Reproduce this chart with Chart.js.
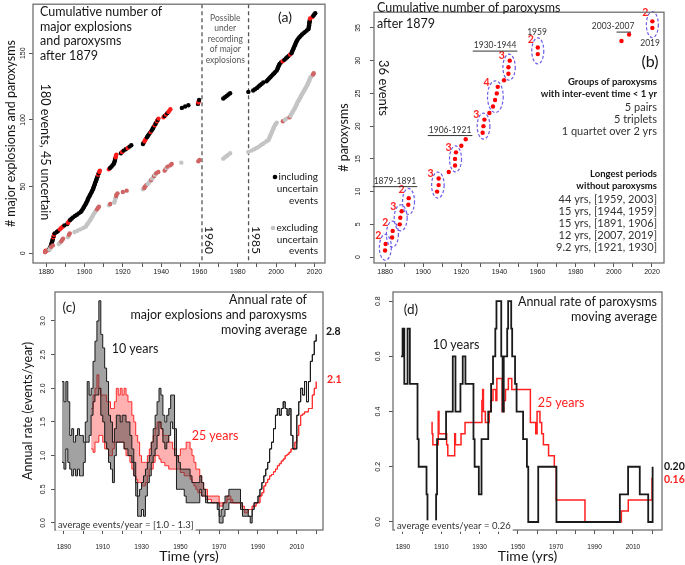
<!DOCTYPE html>
<html>
<head>
<meta charset="utf-8">
<script src="https://cdn.jsdelivr.net/npm/chart.js@4.4.1/dist/chart.umd.min.js"></script>
<style>
  body { margin: 0; background: #fff; }
  #wrap { position: relative; width: 685px; height: 565px; overflow: hidden; background: #fff; }
  canvas { position: absolute; }
</style>
</head>
<body>
<div id="wrap">
  <canvas id="ca" width="335" height="280" style="left:0;top:0"></canvas>
  <canvas id="cb" width="342" height="280" style="left:332px;top:0"></canvas>
  <canvas id="cc" width="345" height="285" style="left:0;top:280px"></canvas>
  <canvas id="cd" width="340" height="285" style="left:345px;top:280px"></canvas>
</div>
<script>
// ---------- (a) cumulative major explosions + paroxysms (event dates, count = order) ----------
const eventsAll = [
  1879.4, 1879.7, 1881.5, 1881.9,
  1882.3, 1882.5, 1882.7, 1882.9, 1883.1, 1883.3, 1883.5, 1883.7, 1883.9, 1884.1, 1884.4,
  1885.5, 1886.3, 1887.1, 1887.8, 1888.6, 1889.5,
  1891.0, 1891.4, 1891.8, 1892.5, 1893.2, 1894.0,
  1895.0, 1896.0, 1897.0, 1898.0,
  1898.5, 1899.0, 1899.4, 1899.8, 1900.2, 1900.6, 1901.0,
  1901.3, 1901.6, 1901.9, 1902.2, 1902.6, 1903.0, 1903.3, 1903.7, 1904.0, 1904.4,
  1904.6, 1904.9, 1905.1, 1905.4, 1905.6, 1905.9, 1906.1, 1906.4, 1906.6, 1906.9, 1907.1, 1907.4, 1907.7, 1908.0,
  1912.7, 1913.3, 1914.0, 1914.6, 1915.2,
  1915.5, 1915.7, 1915.9, 1916.0, 1916.2, 1916.4, 1916.6,
  1919.0, 1919.6, 1920.4,
  1921.5, 1922.5, 1923.5, 1924.4,
  1930.5, 1930.9, 1931.3, 1931.7, 1932.1, 1932.6,
  1933.0, 1933.5, 1934.0, 1934.5, 1935.0, 1935.4, 1935.8, 1936.2, 1936.6, 1937.0, 1937.4, 1937.8, 1938.2, 1938.6,
  1941.2, 1941.8, 1942.5, 1943.2, 1943.8, 1944.3, 1944.8,
  1950.8, 1952.5, 1954.2,
  1959.2, 1959.4, 1959.6, 1959.8,
  1972.4, 1973.3, 1974.2, 1975.1, 1976.0,
  1985.5,
  1988.0, 1989.0, 1990.0, 1990.8, 1991.6, 1992.4, 1993.3,
  1995.0, 1995.6, 1996.3, 1997.0, 1997.6, 1998.3, 1999.0, 1999.6, 2000.3,
  2000.6, 2000.9, 2001.2, 2001.5, 2001.8,
  2002.5, 2003.4, 2004.3, 2005.0, 2005.8, 2006.5, 2007.3,
  2008.0, 2008.3, 2008.6, 2008.9, 2009.2, 2009.5, 2009.8, 2010.1, 2010.4, 2010.7, 2011.1, 2011.6,
  2012.2, 2012.8, 2013.5, 2014.3, 2015.1, 2016.0, 2016.8,
  2017.0, 2017.1, 2017.2, 2017.3, 2017.4, 2017.5, 2017.6, 2017.7,
  2018.8, 2019.4, 2019.9, 2020.4
];
const paroxInAll = [1, 2, 12, 14, 18, 19, 20, 23, 24, 59, 61, 62, 63, 72, 73, 74, 76, 79, 84, 85, 86, 91,
  96, 99, 101, 102, 104, 106, 107, 108, 113, 114, 144, 149, 176, 177];

const eventsCertain = [
  1879.5, 1880.3,
  1881.8, 1882.2, 1882.6, 1883.5,
  1886.5, 1887.2, 1887.8, 1888.3, 1888.8,
  1891.3, 1891.6, 1891.9, 1892.3,
  1894.8, 1896.3, 1897.8, 1899.3, 1900.6,
  1901.0, 1901.5, 1902.0, 1902.5, 1903.0, 1903.4, 1903.8, 1904.2, 1904.6, 1905.0, 1905.5, 1906.0, 1906.5, 1907.0, 1907.5,
  1912.8, 1913.4,
  1915.5, 1915.7, 1915.9, 1916.1, 1916.3, 1916.5, 1916.7, 1917.2,
  1920.0, 1922.0,
  1930.5, 1931.2, 1931.5, 1932.2, 1933.0,
  1933.6, 1934.2, 1934.8, 1935.3, 1935.8, 1936.3, 1936.8, 1937.4, 1938.5,
  1941.8, 1942.3, 1942.8, 1943.3, 1944.8, 1945.5,
  1950.5,
  1959.4, 1960.0,
  1972.4, 1973.3, 1974.2, 1975.1, 1976.0,
  1985.5,
  1987.2, 1988.5, 1989.8, 1991.0, 1992.0, 1993.0, 1994.0, 1995.0,
  1996.0, 1996.3, 1996.6, 1996.9, 1997.2, 1997.5, 1997.8, 1998.1, 1998.4, 1998.7, 1999.0, 1999.4, 1999.8, 2000.3,
  2003.5, 2004.5, 2005.5, 2007.0, 2007.5,
  2007.8, 2008.2, 2008.6, 2009.0, 2009.4, 2009.8, 2010.2, 2010.5, 2010.8, 2011.1, 2011.5, 2011.9, 2012.3, 2012.7, 2013.0, 2013.4,
  2013.8, 2014.2, 2014.6, 2015.0, 2015.4, 2015.8, 2016.2, 2016.5, 2016.8, 2017.1, 2017.4, 2017.7, 2018.0, 2018.6, 2019.3, 2019.6
];
const paroxInCertain = [1, 2, 5, 6, 9, 10, 11, 14, 15, 33, 34, 35, 37, 43, 44, 45, 46, 47, 49, 50, 51, 55,
  58, 60, 61, 62, 63, 65, 66, 67, 69, 70, 99, 102, 134, 135];

const gapLines = [1961.3, 1985.6];
const gapLabels = ['1960', '1985'];
const gapNote = ['Possible', 'under', 'recording', 'of major', 'explosions'];

const xTicksTop = [1880, 1890, 1900, 1910, 1920, 1930, 1940, 1950, 1960, 1970, 1980, 1990, 2000, 2010, 2020];
const xLabelsTop = [1880, 1900, 1920, 1940, 1960, 1980, 2000, 2020];
const yTicksA = [0, 50, 100, 150];
const yTicksB = [0, 5, 10, 15, 20, 25, 30, 35];

// ---------- (b) cumulative paroxysms ----------
const paroxYears = [1880.0, 1880.3, 1883.7, 1884.0, 1887.7, 1888.0, 1888.7, 1892.2, 1892.4, 1907.3, 1908.1, 1908.1,
  1913.4, 1916.7, 1916.7, 1917.2, 1920.0, 1922.3, 1931.2, 1931.6, 1932.1, 1934.7, 1936.6, 1937.7, 1938.6, 1939.1,
  1942.4, 1944.7, 1944.7, 1945.4, 1960.1, 1960.1, 2004.0, 2008.0, 2020.2, 2020.2];
const paroxGroups = [[0, 1], [2, 3], [4, 6], [7, 8], [9, 11], [13, 15], [18, 20], [22, 25], [27, 29], [30, 31], [34, 35]];
const periodLabels = [
  ['1879-1891', 1885.2, 11.6, 'full'],
  ['1906-1921', 1914.1, 19.4, 'full'],
  ['1930-1944', 1937.7, 32.3, 'full'],
  ['1959', 1959.7, 34.4, ''],
  ['2003-2007', 1999.6, 35.2, 'half'],
  ['2019', 2019.0, 32.6, '']
];
const groupNotes = ['5 pairs', '5 triplets', '1 quartet over 2 yrs'];
const longestGaps = ['44 yrs, [1959, 2003]', '15 yrs, [1944, 1959]', '15 yrs, [1891, 1906]', '12 yrs, [2007, 2019]', '9.2 yrs, [1921, 1930]'];

// ---------- (c) annual rate, all major explosions + paroxysms (one value per year) ----------
const startC10 = 1889;
const rate10Lo = [
  0.9, 0.8, 1.1, 0.9, 0.8, 0.7, 0.8, 0.7, 0.8, 0.7,
  0.7, 0.9, 1.2, 1.2, 1.3, 1.6, 1.8, 1.9, 1.9, 2.0,
  1.6, 1.5, 1.2, 1.1, 0.9, 0.8, 0.6, 1.0, 1.2, 1.2,
  1.2, 1.2, 1.1, 1.1, 1.0, 1.0, 0.9, 0.7, 0.4, 0.1,
  0.1, 0.2, 0.1, 0.4, 0.6, 0.7, 0.9, 1.0, 1.1, 1.3,
  1.5, 1.4, 1.2, 1.1, 1.2, 1.3, 1.5, 1.4, 1.0, 0.5,
  0.5, 0.5, 0.5, 0.4, 0.3, 0.3, 0.3, 0.3, 0.3, 0.3,
  0.3, 0.5, 0.4, 0.4, 0.3, 0.3, 0.3, 0.3, 0.3, 0.3,
  0.2, 0.0, 0.0, 0.1, 0.2, 0.2, 0.3, 0.3, 0.3, 0.3,
  0.3, 0.3, 0.2, 0.1, 0.1, 0.1, 0.1, 0.0, 0.2, 0.3,
  0.3, 0.4, 0.5, 0.6, 0.7, 0.8, 0.9, 1.1, 1.2, 1.4,
  1.6, 1.7, 1.6, 1.7, 1.8, 1.7, 1.6, 1.7, 1.3, 1.1,
  1.1, 1.6, 1.8, 2.0, 1.9, 2.1, 1.8, 2.1, 2.4, 2.5,
  2.7, 2.8
];
const rate10Hi = [
  2.1, 1.8, 2.1, 1.8, 1.3, 1.4, 1.2, 1.3, 1.4, 1.3,
  1.3, 1.2, 1.5, 2.1, 1.9, 2.0, 2.4, 2.7, 3.0, 3.3,
  2.8, 2.6, 2.3, 2.1, 1.6, 1.5, 1.2, 1.4, 1.6, 1.6,
  1.5, 1.6, 1.6, 1.5, 1.5, 1.3, 1.1, 0.9, 0.6, 0.4,
  0.5, 0.6, 0.7, 0.8, 0.9, 1.0, 1.2, 1.4, 1.6, 1.8,
  2.0, 1.9, 1.6, 1.5, 1.6, 1.7, 1.9, 1.9, 1.4, 1.0,
  0.9, 0.8, 0.8, 0.8, 0.8, 0.8, 0.7, 0.6, 0.6, 0.6,
  0.6, 0.7, 0.6, 0.5, 0.4, 0.3, 0.3, 0.3, 0.3, 0.3,
  0.3, 0.1, 0.2, 0.3, 0.4, 0.4, 0.5, 0.5, 0.5, 0.5,
  0.5, 0.5, 0.3, 0.2, 0.2, 0.2, 0.1, 0.1, 0.2, 0.3,
  0.3, 0.4, 0.5, 0.6, 0.7, 0.8, 0.9, 1.1, 1.2, 1.4,
  1.6, 1.7, 1.6, 1.7, 1.8, 1.7, 1.6, 1.7, 1.3, 1.1,
  1.1, 1.6, 1.8, 2.0, 1.9, 2.1, 1.8, 2.1, 2.4, 2.5,
  2.7, 2.8
];
const startC25 = 1904;
const rate25Lo = [
  1.1, 1.05, 1.2, 1.2, 1.3, 1.3, 1.2, 1.1, 1.1, 1.0,
  1.0, 1.1, 1.2, 1.2, 1.2, 1.2, 1.2, 1.1, 1.0, 1.0,
  0.9, 0.8, 0.7, 0.65, 0.6, 0.6, 0.55, 0.55, 0.6, 0.7,
  0.8, 0.8, 0.9, 1.0, 1.0, 0.95, 0.9, 0.9, 0.85, 0.85,
  0.8, 0.8, 0.8, 0.8, 0.8, 0.8, 0.75, 0.75, 0.7, 0.7,
  0.7, 0.65, 0.6, 0.55, 0.5, 0.45, 0.45, 0.4, 0.4, 0.35,
  0.35, 0.35, 0.3, 0.3, 0.3, 0.3, 0.25, 0.25, 0.3, 0.3,
  0.35, 0.35, 0.3, 0.3, 0.3, 0.3, 0.3, 0.25, 0.2, 0.15,
  0.15, 0.2, 0.2, 0.25, 0.25, 0.3, 0.3, 0.4, 0.45, 0.55,
  0.6, 0.65, 0.7, 0.72, 0.76, 0.8, 0.85, 0.88, 0.92, 0.95,
  1.0, 1.02, 1.05, 1.1, 1.1, 1.2, 1.3, 1.45, 1.6, 1.62,
  1.65, 1.65, 1.7, 1.7, 1.9, 2.0, 2.1
];
const rate25Hi = [
  1.7, 1.9, 2.0, 2.2, 2.0, 1.9, 1.9, 1.9, 1.8, 1.8,
  1.7, 1.7, 1.8, 2.0, 1.9, 2.0, 1.9, 2.0, 1.9, 1.8,
  1.8, 1.6, 1.5, 1.3, 1.2, 1.0, 0.9, 0.9, 0.9, 1.0,
  1.1, 1.2, 1.3, 1.4, 1.5, 1.5, 1.4, 1.3, 1.3, 1.3,
  1.2, 1.2, 1.1, 1.1, 1.0, 1.0, 1.1, 1.1, 1.1, 1.2,
  1.2, 1.1, 1.0, 0.9, 0.8, 0.8, 0.7, 0.6, 0.5, 0.5,
  0.4, 0.4, 0.4, 0.4, 0.4, 0.4, 0.3, 0.3, 0.3, 0.3,
  0.4, 0.4, 0.35, 0.3, 0.3, 0.3, 0.3, 0.3, 0.25, 0.2,
  0.2, 0.2, 0.2, 0.25, 0.25, 0.3, 0.3, 0.4, 0.45, 0.55,
  0.6, 0.65, 0.7, 0.72, 0.76, 0.8, 0.85, 0.88, 0.92, 0.95,
  1.0, 1.02, 1.05, 1.1, 1.1, 1.2, 1.3, 1.45, 1.6, 1.62,
  1.65, 1.65, 1.7, 1.7, 1.9, 2.0, 2.1
];
const xTicksBottom = [1890, 1900, 1910, 1920, 1930, 1940, 1950, 1960, 1970, 1980, 1990, 2000, 2010, 2020];
const xLabelsBottom = [1890, 1910, 1930, 1950, 1970, 1990, 2010];
const yTicksC = [0, 0.5, 1, 1.5, 2, 2.5, 3];

// ---------- (d) annual rate of paroxysms (step change points) ----------
const par10X = [1889.0, 1889.8, 1890.7, 1892.4, 1893.6, 1897.6, 1898.2, 1902.3, 1902.8, 1907.3, 1907.8, 1912.5, 1916.0,
  1917.4, 1920.0, 1921.2, 1922.6, 1926.8, 1927.4, 1929.6, 1931.0, 1934.5, 1936.0, 1937.0, 1938.2, 1938.8, 1941.3,
  1942.0, 1942.6, 1944.4, 1944.9, 1946.5, 1947.0, 1948.5, 1949.3, 1952.7, 1954.7, 1955.4, 1960.6, 1970.1, 2003.2,
  2007.5, 2013.6, 2018.0, 2020.3];
const par10Y = [0.6, 0.7, 0.5, 0.7, 0.5, 0.3, 0.2, 0.1, 0.0, 0.1, 0.3, 0.4, 0.6,
  0.4, 0.5, 0.6, 0.5, 0.3, 0.2, 0.1, 0.3, 0.4, 0.5, 0.6, 0.7, 0.8, 0.6,
  0.4, 0.6, 0.7, 0.8, 0.7, 0.6, 0.5, 0.4, 0.3, 0.2, 0.0, 0.2, 0.0, 0.1,
  0.2, 0.1, 0.0, 0.2];
const par25X = [1904.8, 1905.2, 1905.6, 1908.4, 1908.8, 1912.8, 1913.4, 1917.0, 1917.4, 1920.3, 1922.4, 1931.2, 1931.6,
  1932.0, 1933.0, 1935.0, 1935.8, 1937.0, 1938.5, 1939.0, 1941.8, 1942.6, 1943.5, 1945.0, 1946.8, 1956.5, 1959.3,
  1960.0, 1961.5, 1962.4, 1963.3, 1966.0, 1969.0, 1970.0, 1985.0, 2004.0, 2007.6, 2020.0];
const par25Y = [0.36, 0.32, 0.28, 0.40, 0.32, 0.28, 0.24, 0.32, 0.28, 0.32, 0.36, 0.44, 0.48,
  0.40, 0.36, 0.40, 0.44, 0.48, 0.44, 0.52, 0.40, 0.44, 0.48, 0.52, 0.48, 0.36, 0.32,
  0.40, 0.36, 0.32, 0.28, 0.24, 0.20, 0.08, 0.00, 0.04, 0.08, 0.16];
const yTicksD = [0, 0.2, 0.4, 0.6, 0.8];

// ---------- helpers ----------
const TF = '"Liberation Sans", Arial, sans-serif';
const AF = 'Lato, "Open Sans", sans-serif';
const INK = '#161616';

function txt(ctx, s, x, y, o = {}) {
  ctx.save();
  ctx.font = (o.bold ? 'bold ' : '') + (o.size || 12) + 'px ' + (o.family || AF);
  ctx.fillStyle = o.color || INK;
  ctx.textAlign = o.align || 'left';
  ctx.textBaseline = 'middle';
  ctx.translate(x, y);
  if (o.rot) ctx.rotate(o.rot * Math.PI / 180);
  if (o.bg) {
    const w = ctx.measureText(s).width;
    ctx.fillStyle = o.bg;
    ctx.fillRect(-2, -(o.size || 12) * 0.6, w + 4, (o.size || 12) * 1.2);
    ctx.fillStyle = o.color || INK;
  }
  ctx.fillText(s, 0, 0);
  ctx.restore();
}

const boxPlugin = {
  id: 'box',
  afterDraw(ch) {
    const { ctx, chartArea: a } = ch;
    ctx.save();
    ctx.strokeStyle = '#707070';
    ctx.lineWidth = 1.3;
    ctx.strokeRect(a.left, a.top, a.right - a.left, a.bottom - a.top);
    ctx.restore();
  }
};

function xAxis(min, max, ticks, labels, h, pad, size, title) {
  return {
    type: 'linear', position: 'bottom', min, max,
    afterBuildTicks: s => { s.ticks = ticks.map(v => ({ value: v })); },
    afterFit: s => { s.height = h; },
    ticks: { autoSkip: false, minRotation: 0, maxRotation: 0, padding: pad, color: INK,
      font: { family: TF, size }, callback: v => labels.includes(v) ? String(v) : '' },
    grid: { drawOnChartArea: false, drawTicks: true, tickLength: 4, color: '#555' },
    border: { display: false },
    title: title ? { display: true, text: title, color: INK, font: { family: AF, size: 14 }, padding: { top: 0, bottom: 0 } }
                 : { display: false }
  };
}

function yAxis(min, max, ticks, fmt, w, pad, size, title, titlePad) {
  return {
    type: 'linear', min, max,
    afterBuildTicks: s => { s.ticks = ticks.map(v => ({ value: v })); },
    afterFit: s => { s.width = w; },
    ticks: { minRotation: 90, maxRotation: 90, crossAlign: 'center', padding: pad, color: INK,
      font: { family: TF, size }, callback: fmt },
    grid: { drawOnChartArea: false, drawTicks: true, tickLength: 4, color: '#555' },
    border: { display: false },
    title: title ? { display: true, text: title, color: INK, font: { family: AF, size: 12.5 }, padding: { top: titlePad, bottom: 0 } }
                 : { display: false }
  };
}

function baseOptions(scales, padding) {
  return {
    responsive: false, animation: false, events: [],
    layout: { padding },
    plugins: { legend: { display: false }, tooltip: { enabled: false } },
    scales
  };
}

const steps = (start, vals) => vals.map((y, i) => ({ x: start + i, y }));
const pairs = (xs, ys) => xs.map((x, i) => ({ x, y: ys[i] }));

// ---------- panel (a) ----------
const panelA = {
  id: 'panelA',
  beforeDatasetsDraw(ch) {
    const { ctx, chartArea: a, scales: { x } } = ch;
    ctx.save();
    ctx.strokeStyle = '#555';
    ctx.lineWidth = 1.3;
    ctx.setLineDash([4, 3]);
    gapLines.forEach(v => {
      const px = x.getPixelForValue(v);
      ctx.beginPath(); ctx.moveTo(px, a.top); ctx.lineTo(px, a.bottom); ctx.stroke();
    });
    ctx.restore();
  },
  afterDraw(ch) {
    const { ctx, scales: { x } } = ch;
    ['Cumulative number of', 'major explosions', 'and paroxysms', 'after 1879']
      .forEach((s, i) => txt(ctx, s, 40, 12 + 14.5 * i, { size: 12.5 }));
    txt(ctx, '(a)', 285, 17, { size: 14, align: 'center' });
    txt(ctx, '180 events, 45 uncertain', 45, 152, { size: 12.5, align: 'center', rot: 90 });
    gapLines.forEach((v, i) => txt(ctx, gapLabels[i], x.getPixelForValue(v) + 7, 240, { size: 12, align: 'center', rot: 90 }));
    const mid = (x.getPixelForValue(gapLines[0]) + x.getPixelForValue(gapLines[1])) / 2;
    gapNote.forEach((s, i) => txt(ctx, s, mid, 18 + 10.5 * i, { size: 8.5, align: 'center', color: '#555' }));
    // legend
    ctx.save();
    ctx.fillStyle = '#000'; ctx.beginPath(); ctx.arc(275, 177, 2.3, 0, 2 * Math.PI); ctx.fill();
    ctx.fillStyle = '#c4c4c4'; ctx.beginPath(); ctx.arc(273, 228, 2.3, 0, 2 * Math.PI); ctx.fill();
    ctx.restore();
    ['including', 'uncertain', 'events'].forEach((s, i) => txt(ctx, s, 318, 177 + 12 * i, { size: 10, align: 'right' }));
    ['excluding', 'uncertain', 'events'].forEach((s, i) => txt(ctx, s, 318, 228 + 11.5 * i, { size: 10, align: 'right' }));
  }
};

new Chart(document.getElementById('ca'), {
  type: 'scatter',
  data: {
    datasets: [
      { data: eventsCertain.map((x, i) => ({ x, y: i + 1 })), pointRadius: 2.2, pointBorderWidth: 0,
        pointBackgroundColor: eventsCertain.map((_, i) => paroxInCertain.includes(i + 1) ? '#d06464' : '#c4c4c4') },
      { data: eventsAll.map((x, i) => ({ x, y: i + 1 })), pointRadius: 2.2, pointBorderWidth: 0,
        pointBackgroundColor: eventsAll.map((_, i) => paroxInAll.includes(i + 1) ? '#ff1a1a' : '#000') }
    ]
  },
  options: baseOptions({
    x: xAxis(1873.1, 2025.5, xTicksTop, xLabelsTop, 17, 1, 7),
    y: yAxis(-7.2, 186.7, yTicksA, v => String(v), 33, 0, 7, '# major explosions and paroxysms', 3)
  }, { top: 2, right: 10, left: 0, bottom: 0 }),
  plugins: [boxPlugin, panelA]
});

// ---------- panel (b) ----------
const panelB = {
  id: 'panelB',
  afterDatasetsDraw(ch) {
    const { ctx, scales: { x, y } } = ch;
    paroxGroups.forEach(([a, b]) => {
      const xs = [], ys = [];
      for (let i = a; i <= b; i++) { xs.push(x.getPixelForValue(paroxYears[i])); ys.push(y.getPixelForValue(i + 1)); }
      const x0 = Math.min(...xs), x1 = Math.max(...xs), y0 = Math.min(...ys), y1 = Math.max(...ys);
      const cx = (x0 + x1) / 2, cy = (y0 + y1) / 2;
      const rx = Math.max(6, (x1 - x0) / 2 + 5.5), ry = Math.max(13, (y1 - y0) / 2 + 6);
      ctx.save();
      ctx.setLineDash([3, 2]);
      ctx.strokeStyle = '#6c5ce7';
      ctx.lineWidth = 1.2;
      ctx.beginPath(); ctx.ellipse(cx, cy, rx, ry, 0, 0, 2 * Math.PI); ctx.stroke();
      ctx.restore();
      txt(ctx, String(b - a + 1), cx - rx - 1, cy - ry * 0.9, { size: 10.5, bold: true, color: '#ff2020', align: 'center' });
    });
  },
  afterDraw(ch) {
    const { ctx, scales: { x, y } } = ch;
    txt(ctx, 'Cumulative number of paroxysms', 45, 8, { size: 12.5 });
    txt(ctx, 'after 1879', 45, 24, { size: 12.5 });
    txt(ctx, '(b)', 318, 62, { size: 16, align: 'center' });
    txt(ctx, '36 events', 51, 88, { size: 13, align: 'center', rot: 90 });
    periodLabels.forEach(([s, yr, n, ul]) => {
      const px = x.getPixelForValue(yr), py = y.getPixelForValue(n);
      txt(ctx, s, px, py, { size: 8.5, align: 'center', color: '#333' });
      if (ul) {
        ctx.save();
        ctx.font = '8.5px ' + AF;
        const w = ctx.measureText(s).width;
        ctx.strokeStyle = '#333'; ctx.lineWidth = 1;
        ctx.beginPath();
        if (ul === 'full') { ctx.moveTo(px - w / 2 - 1, py + 5.5); ctx.lineTo(px + w / 2 + 1, py + 5.5); }
        else { ctx.moveTo(px + w * 0.08, py + 5.5); ctx.lineTo(px + w * 0.42, py + 5.5); }
        ctx.stroke();
        ctx.restore();
      }
    });
    const R = 325;
    txt(ctx, 'Groups of paroxysms', R, 82, { size: 9.5, bold: true, align: 'right' });
    txt(ctx, 'with inter-event time < 1 yr', R, 94, { size: 9.5, bold: true, align: 'right' });
    groupNotes.forEach((s, i) => txt(ctx, s, R, 107 + 12.3 * i, { size: 11, align: 'right', color: '#333' }));
    txt(ctx, 'Longest periods', R, 174, { size: 9.5, bold: true, align: 'right' });
    txt(ctx, 'without paroxysms', R, 186, { size: 9.5, bold: true, align: 'right' });
    longestGaps.forEach((s, i) => txt(ctx, s, R, 199 + 12.2 * i, { size: 11, align: 'right', color: '#333' }));
  }
};

new Chart(document.getElementById('cb'), {
  type: 'scatter',
  data: {
    datasets: [
      { data: paroxYears.map((x, i) => ({ x, y: i + 1 })), pointRadius: 2.2, pointBorderWidth: 0, pointBackgroundColor: '#ff0000' }
    ]
  },
  options: baseOptions({
    x: xAxis(1874.2, 2026.3, xTicksTop, xLabelsTop, 17, 1, 7),
    y: yAxis(-0.9, 37.4, yTicksB, v => String(v), 42, 8, 7, '# paroxysms', 4)
  }, { top: 2, right: 10, left: 0, bottom: 0 }),
  plugins: [boxPlugin, panelB]
});

// ---------- panel (c) ----------
const panelC = {
  id: 'panelC',
  afterDraw(ch) {
    const { ctx, chartArea: a, scales: { y } } = ch;
    txt(ctx, '(c)', 69, 28, { size: 13.5, align: 'center' });
    ['Annual rate of', 'major explosions and paroxysms', 'moving average']
      .forEach((s, i) => txt(ctx, s, 307, 20 + 15 * i, { size: 12.5, align: 'right' }));
    txt(ctx, '10 years', 135, 69, { size: 12.5, align: 'center' });
    txt(ctx, '25 years', 215, 156, { size: 12.5, align: 'center', color: '#ff2020' });
    const e10 = rate10Hi[rate10Hi.length - 1], e25 = rate25Hi[rate25Hi.length - 1];
    txt(ctx, e10.toFixed(1), a.right + 3, y.getPixelForValue(e10) - 3, { size: 10.5, bold: true });
    txt(ctx, e25.toFixed(1), a.right + 4, y.getPixelForValue(e25) - 2, { size: 10.5, bold: true, color: '#ff2020' });
    txt(ctx, 'average events/year = [1.0 - 1.3]', 58, 245, { size: 9.5, bg: '#fff', color: '#333' });
  }
};

new Chart(document.getElementById('cc'), {
  type: 'line',
  data: {
    datasets: [
      { data: steps(startC10, rate10Lo), borderColor: '#1a1a1a', borderWidth: 1, stepped: true, pointRadius: 0, fill: false },
      { data: steps(startC10, rate10Hi), borderColor: '#1a1a1a', borderWidth: 1, stepped: true, pointRadius: 0,
        fill: '-1', backgroundColor: 'rgba(70,70,70,0.5)' },
      { data: steps(startC25, rate25Lo), borderColor: '#ff2a2a', borderWidth: 1, stepped: true, pointRadius: 0, fill: false },
      { data: steps(startC25, rate25Hi), borderColor: '#ff2a2a', borderWidth: 1, stepped: true, pointRadius: 0,
        fill: '-1', backgroundColor: 'rgba(255,60,60,0.4)' }
    ]
  },
  options: baseOptions({
    x: xAxis(1885.4, 2023.5, xTicksBottom, xLabelsBottom, 35, 9, 6.5, 'Time (yrs)'),
    y: yAxis(-0.104, 3.43, yTicksC, v => v.toFixed(1), 55, 3, 7, 'Annual rate (events/year)', 20)
  }, { top: 12, right: 22, left: 0, bottom: 0 }),
  plugins: [boxPlugin, panelC]
});

// ---------- panel (d) ----------
const panelD = {
  id: 'panelD',
  afterDraw(ch) {
    const { ctx, chartArea: a, scales: { y } } = ch;
    txt(ctx, '(d)', 66, 30, { size: 13.5, align: 'center' });
    txt(ctx, 'Annual rate of paroxysms', 312, 22, { size: 12.5, align: 'right' });
    txt(ctx, 'moving average', 312, 37, { size: 12.5, align: 'right' });
    txt(ctx, '10 years', 111, 65, { size: 12.5, align: 'center' });
    txt(ctx, '25 years', 216, 123, { size: 12.5, align: 'center', color: '#ff2020' });
    const e10 = par10Y[par10Y.length - 1], e25 = par25Y[par25Y.length - 1];
    txt(ctx, e10.toFixed(2), a.right + 2, y.getPixelForValue(e10), { size: 10.5, bold: true });
    txt(ctx, e25.toFixed(2), a.right + 2, y.getPixelForValue(e25) + 2, { size: 10.5, bold: true, color: '#ff2020' });
    txt(ctx, 'average events/year = 0.26', 52, 246, { size: 9.5, bg: '#fff', color: '#333' });
  }
};

new Chart(document.getElementById('cd'), {
  type: 'line',
  data: {
    datasets: [
      { data: pairs(par10X, par10Y), borderColor: '#1a1a1a', borderWidth: 1.8, stepped: true, pointRadius: 0, fill: false },
      { data: pairs(par25X, par25Y), borderColor: '#ff2020', borderWidth: 1.5, stepped: true, pointRadius: 0, fill: false }
    ]
  },
  options: baseOptions({
    x: xAxis(1884.8, 2025.2, xTicksBottom, xLabelsBottom, 35, 9, 6.5, 'Time (yrs)'),
    y: yAxis(-0.029, 0.833, yTicksD, v => v.toFixed(1), 48, 6, 7, '', 0)
  }, { top: 12, right: 23, left: 0, bottom: 0 }),
  plugins: [boxPlugin, panelD]
});
</script>
</body>
</html>
